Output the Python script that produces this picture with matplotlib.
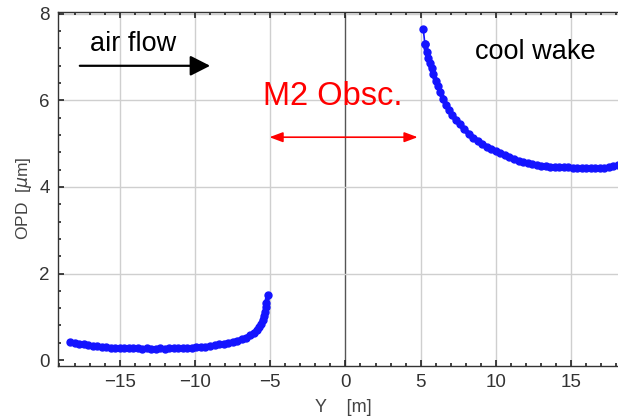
import numpy as np
import matplotlib
matplotlib.use("Agg")
import matplotlib.pyplot as plt
from matplotlib.ticker import MultipleLocator

# --- 1. DATA ---
# upstream side of M2 (air flow region)
y_left = [-18.30, -18.00, -17.70, -17.40, -17.10, -16.80, -16.50, -16.20, -15.90, -15.60,
          -15.30, -15.00, -14.70, -14.40, -14.10, -13.80, -13.50, -13.20, -12.90, -12.60,
          -12.30, -12.00, -11.70, -11.40, -11.10, -10.80, -10.50, -10.20, -9.90, -9.60,
          -9.30, -9.00, -8.70, -8.40, -8.10, -7.80, -7.50, -7.20, -6.90, -6.60,
          -6.35, -6.10, -5.90, -5.75, -5.62, -5.50, -5.42, -5.35, -5.29, -5.25, -5.14]
opd_left = [0.42, 0.40, 0.38, 0.36, 0.34, 0.33, 0.32, 0.31, 0.30, 0.29,
            0.29, 0.28, 0.28, 0.27, 0.27, 0.27, 0.26, 0.27, 0.26, 0.26,
            0.27, 0.26, 0.27, 0.27, 0.27, 0.28, 0.28, 0.29, 0.30, 0.30,
            0.31, 0.33, 0.34, 0.36, 0.38, 0.40, 0.42, 0.45, 0.48, 0.52,
            0.57, 0.62, 0.69, 0.76, 0.84, 0.93, 1.02, 1.12, 1.22, 1.31, 1.50]

# downstream side (cool wake)
y_right = [5.17, 5.28, 5.40, 5.50, 5.60, 5.72, 5.85, 6.00, 6.15, 6.30,
           6.50, 6.70, 6.90, 7.10, 7.35, 7.60, 7.90, 8.20, 8.50, 8.80,
           9.10, 9.40, 9.70, 10.00, 10.30, 10.60, 10.90, 11.20, 11.50, 11.80,
           12.10, 12.40, 12.70, 13.00, 13.30, 13.60, 13.90, 14.20, 14.50, 14.80,
           15.10, 15.40, 15.70, 16.00, 16.30, 16.60, 16.90, 17.20, 17.50, 17.80, 18.10]
opd_right = [7.65, 7.30, 7.13, 6.98, 6.86, 6.74, 6.61, 6.46, 6.33, 6.20,
             6.03, 5.90, 5.77, 5.66, 5.55, 5.45, 5.33, 5.23, 5.14, 5.06,
             4.99, 4.93, 4.88, 4.83, 4.78, 4.73, 4.69, 4.65, 4.61, 4.58,
             4.55, 4.53, 4.51, 4.49, 4.48, 4.47, 4.46, 4.46, 4.45, 4.45,
             4.44, 4.44, 4.43, 4.43, 4.43, 4.43, 4.43, 4.44, 4.46, 4.48, 4.50]

x_ticks = [-15, -10, -5, 0, 5, 10, 15]
y_ticks = [0, 2, 4, 6, 8]

# --- 2. FIGURE ---
plt.rcParams['font.family'] = ['Liberation Sans', 'DejaVu Sans']
fig = plt.figure(figsize=(6.18, 4.19), dpi=100)
ax = fig.add_axes([0.0943, 0.1272, 0.9057, 0.8449])

ax.set_xlim(-19.08, 18.11)
ax.set_ylim(-0.13, 8.05)

# grid
for xt in x_ticks:
    ax.axvline(xt, color='#555555' if xt == 0 else '#cfcfcf', lw=1.0, zorder=0)
for yt in y_ticks[1:]:
    ax.axhline(yt, color='#cfcfcf', lw=1.0, zorder=0)

# data: dense points joined by a thick line so it reads as one band
blue = '#1414ff'
ax.plot(y_left, opd_left, color=blue, lw=3.6, marker='o', ms=5, mec=blue, mfc=blue, zorder=3)
ax.plot(y_right[:2], opd_right[:2], color=blue, lw=1.2, marker='o', ms=5, mec=blue, mfc=blue, zorder=3)
ax.plot(y_right[1:], opd_right[1:], color=blue, lw=3.6, marker='o', ms=5, mec=blue, mfc=blue, zorder=3)

# --- 3. AXES STYLE ---
ax.set_xticks(x_ticks)
ax.set_yticks(y_ticks)
ax.xaxis.set_minor_locator(MultipleLocator(1))
ax.yaxis.set_minor_locator(MultipleLocator(0.4))
ax.tick_params(which='both', direction='in', top=True, right=False, color='#222222')
ax.tick_params(which='major', length=4, width=1.2, labelsize=13.5, labelcolor='#333333', pad=6)
ax.tick_params(which='minor', length=2, width=1.2)
ax.spines['right'].set_visible(False)
for s in ['left', 'bottom', 'top']:
    ax.spines[s].set_color('#333333')
    ax.spines[s].set_linewidth(1.0)

ax.set_xlabel('Y    [m]', fontsize=13, color='#444444')
ax.set_ylabel('OPD  [$\\mu$m]', fontsize=12.5, color='#444444')
ax.xaxis.set_label_coords(0.509, -0.095)
ax.yaxis.set_label_coords(-0.043, 0.472)

# --- 4. ANNOTATIONS ---
ax.text(-16.98, 7.15, 'air flow', fontsize=19.5, color='black', ha='left', va='baseline')
ax.annotate('', xy=(-8.99, 6.80), xytext=(-17.65, 6.80),
            arrowprops=dict(arrowstyle='-|>,head_length=0.61,head_width=0.31',
                            mutation_scale=20, color='black', lw=1.6,
                            shrinkA=0, shrinkB=0))

ax.text(-5.48, 5.90, 'M2 Obsc.', fontsize=23.5, color='#ff0000', ha='left', va='baseline')
ax.annotate('', xy=(4.80, 5.15), xytext=(-5.05, 5.15),
            arrowprops=dict(arrowstyle='<|-|>,head_length=0.4,head_width=0.15',
                            mutation_scale=20, color='#ff0000', lw=1.2,
                            shrinkA=0, shrinkB=0))

ax.text(8.6, 6.95, 'cool wake', fontsize=19.5, color='black', ha='left', va='baseline')

fig.savefig('out.png', dpi=100)
